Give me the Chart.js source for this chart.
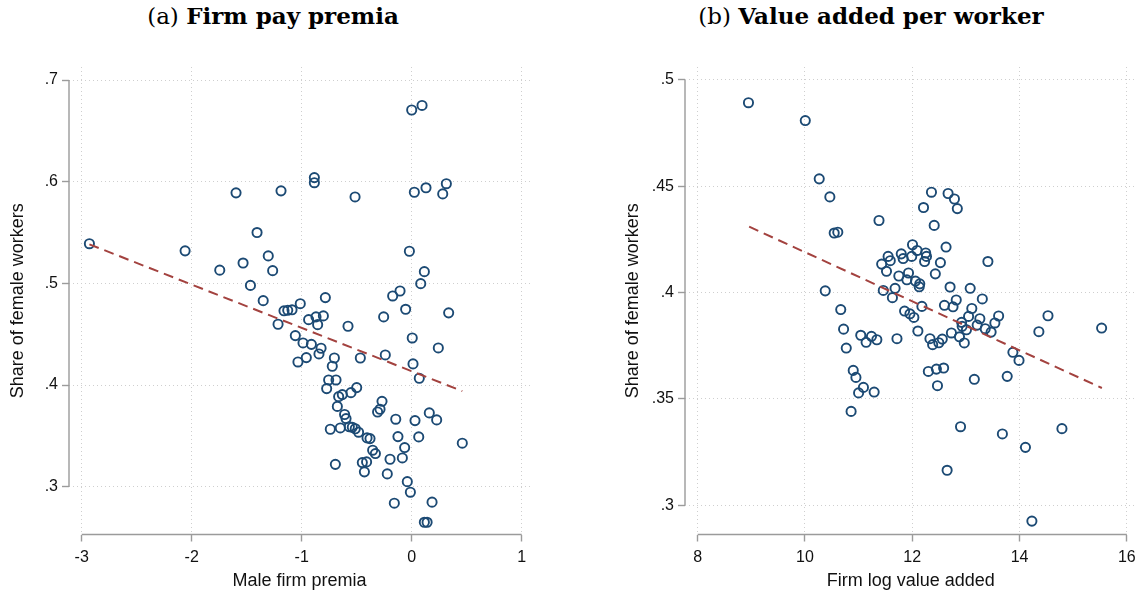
<!DOCTYPE html>
<html>
<head>
<meta charset="utf-8">
<script src="https://cdn.jsdelivr.net/npm/chart.js@4.4.1/dist/chart.umd.min.js"></script>
<style>
  body { margin: 0; background: #fff; width: 1143px; height: 594px; overflow: hidden; position: relative; }
  canvas { position: absolute; top: 0; }
  .ttl { position: absolute; top: 2px; font-family: "DejaVu Serif", serif; font-size: 23px; color: #000;
         white-space: nowrap; transform: translateX(-50%); }
  .ttl b { font-weight: 600; }
</style>
</head>
<body>
<div class="ttl" style="left:273px">(a) <b>Firm pay premia</b></div>
<div class="ttl" style="left:871px">(b) <b>Value added per worker</b></div>
<canvas id="chartA" width="560" height="594" style="left:0px"></canvas>
<canvas id="chartB" width="543" height="594" style="left:600px"></canvas>
<script>
// Panel (a): male firm premia vs share of female workers
const premiaA = [
  -2.93, -2.06, -1.597, -1.188, -1.406, -1.304, -1.745, -1.533, -1.264, -1.466,
  -1.35, 0.0, 0.094, -0.885, -0.885, -0.515, 0.024, 0.13, 0.315, 0.282,
  -0.021, 0.115, 0.082, -0.106, -0.173, -1.161, -1.127, -1.088, -1.215, -0.785,
  -1.013, -0.937, -0.87, -0.803, -0.855, -0.579, -0.255, -0.055, 0.336, -1.058,
  -0.988, -0.912, -0.824, -0.843, -1.034, -0.958, -0.703, -0.722, -0.467, -0.24,
  0.005, 0.242, 0.012, 0.069, -0.755, -0.688, -0.773, -0.5, -0.552, -0.664,
  -0.631, -0.676, -0.27, -0.31, -0.288, -0.61, -0.597, -0.74, -0.649, -0.567,
  -0.54, -0.513, -0.483, -0.406, -0.379, -0.145, 0.03, 0.16, 0.227, -0.125,
  0.064, 0.46, -0.064, -0.085, -0.355, -0.33, -0.197, -0.694, -0.449, -0.41,
  -0.43, -0.222, -0.04, -0.012, -0.158, 0.185, 0.115, 0.14
];
const femShareA = [
  0.539, 0.532, 0.589, 0.591, 0.55, 0.527, 0.513, 0.52, 0.5125, 0.498,
  0.483, 0.6705, 0.675, 0.604, 0.599, 0.585, 0.5896, 0.594, 0.598, 0.588,
  0.5316, 0.5115, 0.4997, 0.4925, 0.4876, 0.473, 0.4735, 0.474, 0.4598, 0.486,
  0.48, 0.4643, 0.467, 0.468, 0.4594, 0.4578, 0.467, 0.4745, 0.471, 0.4486,
  0.4414, 0.44, 0.4362, 0.4306, 0.4227, 0.427, 0.4266, 0.4185, 0.4266, 0.4296,
  0.4463, 0.4365, 0.4208, 0.4067, 0.405, 0.405, 0.3965, 0.3975, 0.3925, 0.3886,
  0.3906, 0.379, 0.384, 0.3735, 0.3762, 0.371, 0.367, 0.3565, 0.3578, 0.359,
  0.3585, 0.357, 0.3536, 0.348, 0.3473, 0.3664, 0.365, 0.3726, 0.3657, 0.3493,
  0.349, 0.3428, 0.3385, 0.3283, 0.3359, 0.3326, 0.327, 0.322, 0.3237, 0.3244,
  0.3146, 0.3126, 0.305, 0.2946, 0.2838, 0.2848, 0.265, 0.265
];
const fitXA = [-2.93, 0.46];
const fitYA = [0.5384, 0.394];
const xTicksA = [-3, -2, -1, 0, 1];
const xLabelsA = ["-3", "-2", "-1", "0", "1"];
const yTicksA = [0.3, 0.4, 0.5, 0.6, 0.7];
const yLabelsA = [".3", ".4", ".5", ".6", ".7"];

// Panel (b): firm log value added vs share of female workers
const logVaB = [
  8.947, 10.006, 10.266, 10.464, 10.545, 10.612, 10.378, 12.358, 12.668, 12.786,
  12.84, 12.21, 11.38, 12.409, 12.005, 12.09, 12.63, 12.25, 12.265, 12.23,
  11.795, 11.83, 11.99, 11.55, 11.59, 11.43, 11.52, 12.525, 13.41, 11.75,
  11.93, 11.9, 12.06, 12.14, 12.13, 12.43, 12.705, 13.08, 11.46, 11.68,
  11.63, 13.306, 12.18, 12.6, 12.76, 12.82, 13.11, 11.857, 11.957, 12.03,
  13.05, 12.92, 12.93, 13.01, 13.26, 13.61, 13.54, 13.36, 13.47, 13.21,
  12.73, 12.88, 12.97, 12.105, 12.33, 12.38, 12.495, 12.56, 11.715, 11.04,
  11.14, 11.24, 11.34, 14.36, 14.53, 15.53, 13.876, 13.99, 12.3, 12.45,
  12.585, 12.47, 13.157, 13.77, 10.9, 10.95, 11.09, 11.0, 11.29, 10.86,
  12.9, 13.68, 14.79, 14.11, 12.65, 14.23, 10.667, 10.72, 10.77
];
const femShareB = [
  0.4893, 0.4809, 0.4535, 0.445, 0.428, 0.4284, 0.4008, 0.4472, 0.4466, 0.444,
  0.4395, 0.44, 0.4339, 0.4316, 0.4225, 0.4198, 0.4214, 0.4186, 0.417, 0.4146,
  0.4182, 0.416, 0.417, 0.417, 0.415, 0.4134, 0.41, 0.4141, 0.4146, 0.4078,
  0.4092, 0.406, 0.4054, 0.4041, 0.4027, 0.4088, 0.4026, 0.402, 0.401, 0.402,
  0.3976, 0.397, 0.3935, 0.394, 0.3933, 0.3965, 0.3925, 0.3913, 0.39, 0.3883,
  0.3888, 0.386, 0.3841, 0.3825, 0.3877, 0.389, 0.3857, 0.383, 0.3814, 0.3847,
  0.381, 0.3792, 0.3763, 0.3819, 0.3783, 0.3755, 0.3764, 0.3781, 0.3783, 0.3799,
  0.3766, 0.3794, 0.3778, 0.3816, 0.3891, 0.3833, 0.3719, 0.3681, 0.3629, 0.364,
  0.3645, 0.3562, 0.3592, 0.3606, 0.3634, 0.3601, 0.3554, 0.3528, 0.3532, 0.3441,
  0.3369, 0.3335, 0.336, 0.3272, 0.3164, 0.2925, 0.392, 0.3828, 0.3739
];
const fitXB = [8.96, 15.535];
const fitYB = [0.431, 0.3551];
const xTicksB = [8, 10, 12, 14, 16];
const xLabelsB = ["8", "10", "12", "14", "16"];
const yTicksB = [0.3, 0.35, 0.4, 0.45, 0.5];
const yLabelsB = [".3", ".35", ".4", ".45", ".5"];

const yTitle = "Share of female workers";

const NAVY = "#1c4a74";
const FIT_RED = "#a3423f";
const AXIS_GREY = "#9b9b9b";
const GRID_GREY = "#cfcfcf";

// Stata-style axis lines: only span the first to last tick
const tickRangeAxes = {
  id: "tickRangeAxes",
  beforeDatasetsDraw(chart) {
    const { ctx, chartArea } = chart;
    const xs = chart.scales.x, ys = chart.scales.y;
    const xt = xs.ticks, yt = ys.ticks;
    ctx.save();
    ctx.strokeStyle = AXIS_GREY;
    ctx.lineWidth = 1.4;
    ctx.beginPath();
    ctx.moveTo(xs.getPixelForValue(xt[0].value), chartArea.bottom);
    ctx.lineTo(xs.getPixelForValue(xt[xt.length - 1].value), chartArea.bottom);
    ctx.moveTo(chartArea.left, ys.getPixelForValue(yt[0].value));
    ctx.lineTo(chartArea.left, ys.getPixelForValue(yt[yt.length - 1].value));
    ctx.stroke();
    ctx.restore();
  },
};

function makePanel(id, cfg) {
  const points = cfg.xs.map((x, i) => ({ x: x, y: cfg.ys[i] }));
  const fit = cfg.fitX.map((x, i) => ({ x: x, y: cfg.fitY[i] }));
  const tickFont = { family: "'Liberation Sans', Arial, sans-serif", size: 16 };
  const titleFont = { family: "'Liberation Sans', Arial, sans-serif", size: 18 };
  const gridOpts = {
    color: GRID_GREY,
    lineWidth: 1,
    tickLength: 7,
    tickColor: AXIS_GREY,
    tickWidth: 1.4,
    tickBorderDash: [],
  };
  return new Chart(document.getElementById(id), {
    type: "scatter",
    data: {
      datasets: [
        {
          data: fit,
          showLine: true,
          borderColor: FIT_RED,
          borderWidth: 2,
          borderDash: [10, 6],
          pointRadius: 0,
          fill: false,
        },
        {
          data: points,
          pointStyle: "circle",
          pointRadius: 4.6,
          pointBorderWidth: 1.9,
          pointBackgroundColor: "rgba(0,0,0,0)",
          pointBorderColor: NAVY,
          pointHoverRadius: 4.6,
        },
      ],
    },
    options: {
      responsive: false,
      animation: false,
      events: [],
      layout: { padding: { top: 67, right: cfg.padRight, left: 0, bottom: 0 } },
      plugins: { legend: { display: false }, tooltip: { enabled: false } },
      scales: {
        x: {
          type: "linear",
          min: cfg.xMin,
          max: cfg.xMax,
          afterBuildTicks: (s) => { s.ticks = cfg.xTicks.map((v) => ({ value: v })); },
          afterFit: (s) => { s.height = 59.5; },
          ticks: {
            font: tickFont,
            color: "#111",
            padding: 6,
            maxRotation: 0,
            callback: (v, i) => cfg.xLabels[i],
          },
          grid: gridOpts,
          border: { display: false, dash: [1, 3] },
          title: { display: true, text: cfg.xTitle, font: titleFont, color: "#111", padding: { top: 0, bottom: 2 } },
        },
        y: {
          type: "linear",
          min: cfg.yMin,
          max: cfg.yMax,
          afterBuildTicks: (s) => { s.ticks = cfg.yTicks.map((v) => ({ value: v })); },
          afterFit: (s) => { s.width = cfg.yWidth; },
          ticks: {
            font: tickFont,
            color: "#111",
            padding: 4,
            callback: (v, i) => cfg.yLabels[i],
          },
          grid: gridOpts,
          border: { display: false, dash: [1, 3] },
          title: { display: true, text: yTitle, font: titleFont, color: "#111", padding: { top: cfg.yTitlePad, bottom: 0 } },
        },
      },
    },
    plugins: [tickRangeAxes],
  });
}

makePanel("chartA", {
  xs: premiaA, ys: femShareA, fitX: fitXA, fitY: fitYA,
  xMin: -3.1155, xMax: 1.0755, yMin: 0.253, yMax: 0.7128,
  xTicks: xTicksA, xLabels: xLabelsA, yTicks: yTicksA, yLabels: yLabelsA,
  xTitle: "Male firm premia", yWidth: 69, padRight: 30, yTitlePad: 7,
});

makePanel("chartB", {
  xs: logVaB, ys: femShareB, fitX: fitXB, fitY: fitYB,
  xMin: 7.764, xMax: 16.18, yMin: 0.2862, yMax: 0.5061,
  xTicks: xTicksB, xLabels: xLabelsB, yTicks: yTicksB, yLabels: yLabelsB,
  xTitle: "Firm log value added", yWidth: 85, padRight: 5, yTitlePad: 22,
});
</script>
</body>
</html>
